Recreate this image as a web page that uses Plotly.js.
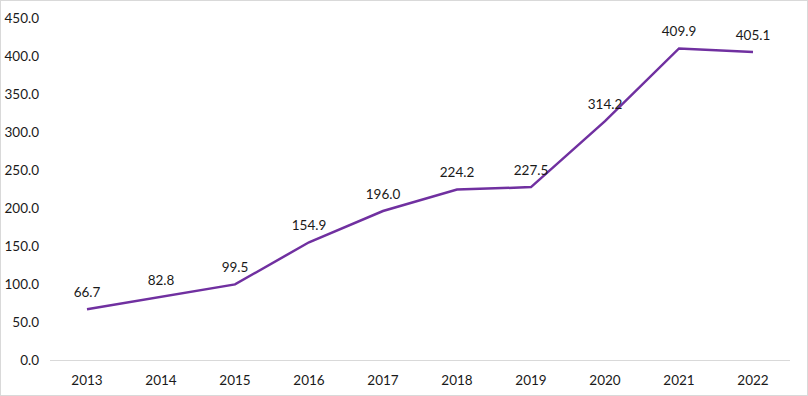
<!DOCTYPE html>
<html>
<head>
<meta charset="utf-8">
<script src="https://cdn.plot.ly/plotly-3.0.1.min.js"></script>
<style>
html,body{margin:0;padding:0;background:#fff;}
#chart{width:806px;height:394px;border:1px solid #d9d9d9;}
</style>
</head>
<body>
<div id="chart"></div>
<script>
var years = ['2013','2014','2015','2016','2017','2018','2019','2020','2021','2022'];
var values = [66.7, 82.8, 99.5, 154.9, 196.0, 224.2, 227.5, 314.2, 409.9, 405.1];
var yTicks = [0, 50, 100, 150, 200, 250, 300, 350, 400, 450];

var FONT = 'Lato, Open Sans, sans-serif';

var trace = {
  x: years,
  y: values,
  type: 'scatter',
  mode: 'lines+markers+text',
  line: {color: '#7030A0', width: 2.5},
  marker: {size: 13, color: 'rgba(0,0,0,0)', line: {width: 0}},
  text: values.map(function(v){ return v.toFixed(1); }),
  textposition: 'top center',
  textfont: {family: FONT, size: 13.5, color: '#1a1a1a'},
  cliponaxis: false,
  hoverinfo: 'skip'
};

var layout = {
  width: 806, height: 394,
  margin: {l: 49, r: 17, t: 17, b: 35},
  paper_bgcolor: '#ffffff',
  plot_bgcolor: '#ffffff',
  showlegend: false,
  font: {family: FONT, size: 13.5, color: '#1a1a1a'},
  xaxis: {
    type: 'category',
    range: [-0.5, years.length - 0.5],
    showgrid: false, zeroline: false,
    showline: true, linecolor: '#d9d9d9', linewidth: 1,
    ticks: '', ticklabelstandoff: 8,
    tickfont: {family: FONT, size: 13.5, color: '#1a1a1a'}
  },
  yaxis: {
    range: [0, 450],
    tickvals: yTicks,
    ticktext: yTicks.map(function(v){return v.toFixed(1);}),
    showgrid: false, zeroline: false, showline: false,
    ticks: '', ticklabelstandoff: 10,
    tickfont: {family: FONT, size: 13.5, color: '#1a1a1a'}
  }
};

Plotly.newPlot('chart', [trace], layout, {displayModeBar: false, staticPlot: true});
</script>
</body>
</html>
